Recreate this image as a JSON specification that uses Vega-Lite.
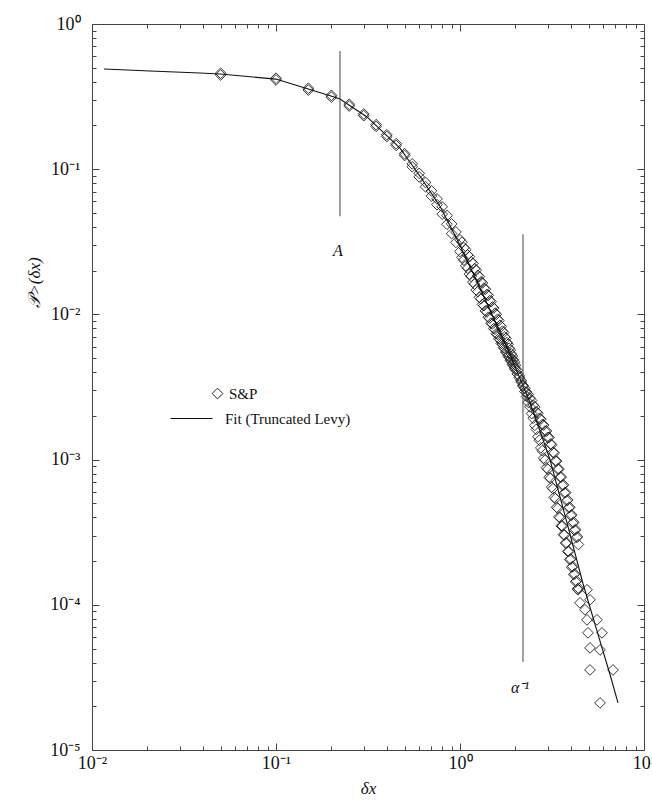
{
  "$schema": "https://vega.github.io/schema/vega-lite/v6.json",
  "width": 552,
  "height": 726,
  "autosize": "none",
  "padding": {"left": 92, "top": 24, "right": 8, "bottom": 54},
  "background": "white",
  "config": {
    "view": {"stroke": null},
    "axis": {
      "grid": false,
      "domainColor": "#444",
      "tickColor": "#444",
      "domainWidth": 1,
      "tickWidth": 1,
      "labelFont": "Liberation Serif",
      "labelFontSize": 18,
      "labelColor": "#111",
      "titleFont": "Liberation Serif",
      "titleFontSize": 17,
      "titleFontStyle": "italic",
      "titleFontWeight": "normal",
      "titleColor": "#111",
      "labelFlush": false,
      "labelOverlap": false
    },
    "legend": {
      "labelFont": "Liberation Serif",
      "labelFontSize": 15,
      "labelColor": "#111",
      "padding": 0,
      "symbolStrokeWidth": 1
    }
  },
  "datasets": {
    "sp": [
      {"dx": 0.05, "P": 0.4579}, {"dx": 0.05, "P": 0.4454},
      {"dx": 0.1, "P": 0.4233}, {"dx": 0.1, "P": 0.4118},
      {"dx": 0.15, "P": 0.3609}, {"dx": 0.15, "P": 0.351},
      {"dx": 0.2, "P": 0.3225}, {"dx": 0.2, "P": 0.3136},
      {"dx": 0.25, "P": 0.2798}, {"dx": 0.25, "P": 0.2722},
      {"dx": 0.3, "P": 0.2402}, {"dx": 0.3, "P": 0.2336},
      {"dx": 0.35, "P": 0.2026}, {"dx": 0.35, "P": 0.1971},
      {"dx": 0.4, "P": 0.1726}, {"dx": 0.4, "P": 0.1679},
      {"dx": 0.45, "P": 0.1499}, {"dx": 0.45, "P": 0.1458},
      {"dx": 0.5, "P": 0.1278}, {"dx": 0.5, "P": 0.1243},
      {"dx": 0.55, "P": 0.1088}, {"dx": 0.55, "P": 0.1039},
      {"dx": 0.6, "P": 0.09367}, {"dx": 0.6, "P": 0.08862},
      {"dx": 0.65, "P": 0.0811}, {"dx": 0.65, "P": 0.07568},
      {"dx": 0.7, "P": 0.07092}, {"dx": 0.7, "P": 0.06532},
      {"dx": 0.75, "P": 0.06248}, {"dx": 0.75, "P": 0.05698},
      {"dx": 0.8, "P": 0.05505}, {"dx": 0.8, "P": 0.04906},
      {"dx": 0.85, "P": 0.04797}, {"dx": 0.85, "P": 0.04178},
      {"dx": 0.9, "P": 0.04196}, {"dx": 0.9, "P": 0.03604},
      {"dx": 0.95, "P": 0.03698}, {"dx": 0.95, "P": 0.03133},
      {"dx": 1.0, "P": 0.03264}, {"dx": 1.0, "P": 0.02714},
      {"dx": 1.025, "P": 0.03143}, {"dx": 1.025, "P": 0.02474},
      {"dx": 1.05, "P": 0.02884}, {"dx": 1.05, "P": 0.02366},
      {"dx": 1.075, "P": 0.0279}, {"dx": 1.075, "P": 0.0216},
      {"dx": 1.1, "P": 0.02566}, {"dx": 1.1, "P": 0.02076},
      {"dx": 1.125, "P": 0.02497}, {"dx": 1.125, "P": 0.01894},
      {"dx": 1.15, "P": 0.023}, {"dx": 1.15, "P": 0.01827},
      {"dx": 1.175, "P": 0.02244}, {"dx": 1.175, "P": 0.01668},
      {"dx": 1.2, "P": 0.02063}, {"dx": 1.2, "P": 0.01616},
      {"dx": 1.225, "P": 0.02019}, {"dx": 1.225, "P": 0.01475},
      {"dx": 1.25, "P": 0.01857}, {"dx": 1.25, "P": 0.01434},
      {"dx": 1.275, "P": 0.01821}, {"dx": 1.275, "P": 0.01311},
      {"dx": 1.3, "P": 0.01674}, {"dx": 1.3, "P": 0.01281},
      {"dx": 1.325, "P": 0.01647}, {"dx": 1.325, "P": 0.01172},
      {"dx": 1.35, "P": 0.01515}, {"dx": 1.35, "P": 0.01149},
      {"dx": 1.375, "P": 0.01491}, {"dx": 1.375, "P": 0.01056},
      {"dx": 1.4, "P": 0.0137}, {"dx": 1.4, "P": 0.01039},
      {"dx": 1.425, "P": 0.01351}, {"dx": 1.425, "P": 0.009561},
      {"dx": 1.45, "P": 0.01243}, {"dx": 1.45, "P": 0.009428},
      {"dx": 1.475, "P": 0.01223}, {"dx": 1.475, "P": 0.008706},
      {"dx": 1.5, "P": 0.01125}, {"dx": 1.5, "P": 0.008611},
      {"dx": 1.525, "P": 0.01106}, {"dx": 1.525, "P": 0.00799},
      {"dx": 1.55, "P": 0.01019}, {"dx": 1.55, "P": 0.00791},
      {"dx": 1.575, "P": 0.01001}, {"dx": 1.575, "P": 0.007359},
      {"dx": 1.6, "P": 0.009254}, {"dx": 1.6, "P": 0.007285},
      {"dx": 1.625, "P": 0.009077}, {"dx": 1.625, "P": 0.006808},
      {"dx": 1.65, "P": 0.008408}, {"dx": 1.65, "P": 0.006742},
      {"dx": 1.675, "P": 0.00824}, {"dx": 1.675, "P": 0.006322},
      {"dx": 1.7, "P": 0.00766}, {"dx": 1.7, "P": 0.006256},
      {"dx": 1.725, "P": 0.007503}, {"dx": 1.725, "P": 0.00589},
      {"dx": 1.75, "P": 0.006998}, {"dx": 1.75, "P": 0.005818},
      {"dx": 1.775, "P": 0.006834}, {"dx": 1.775, "P": 0.005503},
      {"dx": 1.8, "P": 0.006389}, {"dx": 1.8, "P": 0.005434},
      {"dx": 1.825, "P": 0.006224}, {"dx": 1.825, "P": 0.005162},
      {"dx": 1.85, "P": 0.005844}, {"dx": 1.85, "P": 0.00509},
      {"dx": 1.875, "P": 0.005675}, {"dx": 1.875, "P": 0.004844},
      {"dx": 1.9, "P": 0.005339}, {"dx": 1.9, "P": 0.004759},
      {"dx": 1.925, "P": 0.005169}, {"dx": 1.925, "P": 0.004542},
      {"dx": 1.95, "P": 0.00488}, {"dx": 1.95, "P": 0.00445},
      {"dx": 1.975, "P": 0.004715}, {"dx": 1.975, "P": 0.004263},
      {"dx": 2.0, "P": 0.004467}, {"dx": 2.0, "P": 0.004168},
      {"dx": 2.05, "P": 0.004123}, {"dx": 2.05, "P": 0.00389},
      {"dx": 2.1, "P": 0.003771}, {"dx": 2.1, "P": 0.003668},
      {"dx": 2.15, "P": 0.003506}, {"dx": 2.15, "P": 0.00342},
      {"dx": 2.2, "P": 0.003204}, {"dx": 2.2, "P": 0.003249},
      {"dx": 2.25, "P": 0.003092}, {"dx": 2.25, "P": 0.002941},
      {"dx": 2.3, "P": 0.002723}, {"dx": 2.3, "P": 0.002917},
      {"dx": 2.35, "P": 0.00281}, {"dx": 2.35, "P": 0.002482},
      {"dx": 2.4, "P": 0.00231}, {"dx": 2.4, "P": 0.002653},
      {"dx": 2.45, "P": 0.002551}, {"dx": 2.45, "P": 0.002073},
      {"dx": 2.5, "P": 0.001927}, {"dx": 2.5, "P": 0.00237},
      {"dx": 2.55, "P": 0.0023}, {"dx": 2.55, "P": 0.001721},
      {"dx": 2.6, "P": 0.001614}, {"dx": 2.6, "P": 0.002128},
      {"dx": 2.65, "P": 0.002086}, {"dx": 2.65, "P": 0.001437},
      {"dx": 2.7, "P": 0.00136}, {"dx": 2.7, "P": 0.001922},
      {"dx": 2.75, "P": 0.001902}, {"dx": 2.75, "P": 0.001205},
      {"dx": 2.8, "P": 0.001152}, {"dx": 2.8, "P": 0.001744},
      {"dx": 2.85, "P": 0.00173}, {"dx": 2.85, "P": 0.001023},
      {"dx": 2.9, "P": 0.0009922}, {"dx": 2.9, "P": 0.001572},
      {"dx": 2.95, "P": 0.00157}, {"dx": 2.95, "P": 0.000879},
      {"dx": 3.0, "P": 0.0008578}, {"dx": 3.0, "P": 0.001423},
      {"dx": 3.05, "P": 0.001422}, {"dx": 3.05, "P": 0.0007572},
      {"dx": 3.1, "P": 0.0007431}, {"dx": 3.1, "P": 0.001279},
      {"dx": 3.15, "P": 0.001267}, {"dx": 3.15, "P": 0.0006467},
      {"dx": 3.2, "P": 0.0006302}, {"dx": 3.2, "P": 0.001121},
      {"dx": 3.25, "P": 0.001111}, {"dx": 3.25, "P": 0.0005494},
      {"dx": 3.3, "P": 0.0005385}, {"dx": 3.3, "P": 0.0009799},
      {"dx": 3.35, "P": 0.0009761}, {"dx": 3.35, "P": 0.0004694},
      {"dx": 3.4, "P": 0.0004623}, {"dx": 3.4, "P": 0.0008607},
      {"dx": 3.45, "P": 0.0008611}, {"dx": 3.45, "P": 0.0004029},
      {"dx": 3.5, "P": 0.0003985}, {"dx": 3.5, "P": 0.0007592},
      {"dx": 3.55, "P": 0.0007579}, {"dx": 3.55, "P": 0.0003496},
      {"dx": 3.6, "P": 0.0003489}, {"dx": 3.6, "P": 0.0006649},
      {"dx": 3.65, "P": 0.0006693}, {"dx": 3.65, "P": 0.0003045},
      {"dx": 3.7, "P": 0.000303}, {"dx": 3.7, "P": 0.000591},
      {"dx": 3.75, "P": 0.0005932}, {"dx": 3.75, "P": 0.0002662},
      {"dx": 3.8, "P": 0.0002673}, {"dx": 3.8, "P": 0.0005211},
      {"dx": 3.85, "P": 0.0005272}, {"dx": 3.85, "P": 0.0002333},
      {"dx": 3.9, "P": 0.0002334}, {"dx": 3.9, "P": 0.0004657},
      {"dx": 3.95, "P": 0.0004695}, {"dx": 3.95, "P": 0.0002049},
      {"dx": 4.0, "P": 0.0002066}, {"dx": 4.0, "P": 0.0004122},
      {"dx": 4.05, "P": 0.0004161}, {"dx": 4.05, "P": 0.0001816},
      {"dx": 4.1, "P": 0.0001834}, {"dx": 4.1, "P": 0.000366},
      {"dx": 4.15, "P": 0.0003702}, {"dx": 4.15, "P": 0.0001616},
      {"dx": 4.2, "P": 0.0001634}, {"dx": 4.2, "P": 0.0003261},
      {"dx": 4.25, "P": 0.0003299}, {"dx": 4.25, "P": 0.000144},
      {"dx": 4.3, "P": 0.0001458}, {"dx": 4.3, "P": 0.0002909},
      {"dx": 4.35, "P": 0.0002947}, {"dx": 4.35, "P": 0.0001287},
      {"dx": 4.4, "P": 0.0001304}, {"dx": 4.4, "P": 0.0002602},
      {"dx": 4.378, "P": 0.0001269}, {"dx": 4.899, "P": 0.0001269},
      {"dx": 4.489, "P": 0.0001032}, {"dx": 5.087, "P": 0.0001083},
      {"dx": 4.778, "P": 0.0000924}, {"dx": 4.899, "P": 0.0000788},
      {"dx": 5.554, "P": 0.0000788}, {"dx": 4.962, "P": 0.0000641},
      {"dx": 5.91, "P": 0.0000641}, {"dx": 5.087, "P": 0.0000505},
      {"dx": 5.767, "P": 0.0000489}, {"dx": 5.087, "P": 0.0000356},
      {"dx": 6.785, "P": 0.0000356}, {"dx": 5.767, "P": 0.0000211}
    ],
    "fit": [
      {"dx": 0.01162, "P": 0.4895}, {"dx": 0.02066, "P": 0.4742},
      {"dx": 0.03864, "P": 0.4594}, {"dx": 0.04962, "P": 0.4521},
      {"dx": 0.1, "P": 0.4175}, {"dx": 0.1438, "P": 0.3619},
      {"dx": 0.199, "P": 0.3188}, {"dx": 0.2227, "P": 0.304},
      {"dx": 0.3123, "P": 0.2291}, {"dx": 0.472, "P": 0.1396},
      {"dx": 0.6063, "P": 0.08947}, {"dx": 0.7785, "P": 0.05557},
      {"dx": 0.9632, "P": 0.0329}, {"dx": 1.177, "P": 0.01928},
      {"dx": 1.455, "P": 0.01072}, {"dx": 1.87, "P": 0.005298},
      {"dx": 2.401, "P": 0.002472}, {"dx": 3.084, "P": 0.001},
      {"dx": 3.864, "P": 0.000345}, {"dx": 4.662, "P": 0.0001396},
      {"dx": 5.767, "P": 0.00005623}, {"dx": 6.535, "P": 0.00003311},
      {"dx": 7.224, "P": 0.00002109}
    ],
    "vlines": [
      {"dx": 0.2227, "P": 0.6515, "P2": 0.0474},
      {"dx": 2.2, "P": 0.03561, "P2": 0.00004045}
    ],
    "notes": [
      {"dx": 0.2172, "P": 0.02719, "label": "A"},
      {"dx": 2.12, "P": 0.00002677, "label": "α⁻¹"}
    ]
  },
  "resolve": {"axis": {"x": "independent", "y": "independent"}},
  "layer": [
    {
      "data": {"name": "sp"},
      "mark": {"type": "point", "filled": false, "stroke": "#222", "strokeWidth": 0.9, "size": 115, "opacity": 1},
      "encoding": {
        "x": {
          "field": "dx", "type": "quantitative",
          "scale": {"type": "log", "domain": [0.01, 10], "nice": false},
          "axis": {
            "orient": "bottom",
            "values": [0.01,0.02,0.03,0.04,0.05,0.06,0.07,0.08,0.09,0.1,0.2,0.3,0.4,0.5,0.6,0.7,0.8,0.9,1,2,3,4,5,6,7,8,9,10],
            "tickSize": {"condition": {"test": "abs(log(datum.value)/LN10 - round(log(datum.value)/LN10)) < 0.000001", "value": -7}, "value": -4},
            "labelExpr": "abs(log(datum.value)/LN10 - round(log(datum.value)/LN10)) < 0.000001 ? '10' + replace(replace(replace(replace(replace(replace(replace('' + round(log(datum.value)/LN10), '-', '⁻'), '0', '⁰'), '1', '¹'), '2', '²'), '3', '³'), '4', '⁴'), '5', '⁵') : ''",
            "labelPadding": 11,
            "title": "δx",
            "titlePadding": 5
          }
        },
        "y": {
          "field": "P", "type": "quantitative",
          "scale": {"type": "log", "domain": [0.00001, 1], "nice": false},
          "axis": {
            "orient": "left",
            "values": [0.00001,0.00002,0.00003,0.00004,0.00005,0.00006,0.00007,0.00008,0.00009,0.0001,0.0002,0.0003,0.0004,0.0005,0.0006,0.0007,0.0008,0.0009,0.001,0.002,0.003,0.004,0.005,0.006,0.007,0.008,0.009,0.01,0.02,0.03,0.04,0.05,0.06,0.07,0.08,0.09,0.1,0.2,0.3,0.4,0.5,0.6,0.7,0.8,0.9,1],
            "tickSize": {"condition": {"test": "abs(log(datum.value)/LN10 - round(log(datum.value)/LN10)) < 0.000001", "value": -7}, "value": -4},
            "labelExpr": "abs(log(datum.value)/LN10 - round(log(datum.value)/LN10)) < 0.000001 ? '10' + replace(replace(replace(replace(replace(replace(replace('' + round(log(datum.value)/LN10), '-', '⁻'), '0', '⁰'), '1', '¹'), '2', '²'), '3', '³'), '4', '⁴'), '5', '⁵') : ''",
            "labelPadding": 19,
            "title": "𝒫>(δx)",
            "titleX": -58,
            "titleY": 258,
            "titleAngle": -90,
            "titleAlign": "center",
            "titleBaseline": "middle"
          }
        },
        "shape": {
          "datum": "S&P",
          "scale": {"domain": ["S&P"], "range": ["diamond"]},
          "legend": {"orient": "none", "legendX": 118, "legendY": 362, "title": null, "symbolSize": 115, "labelOffset": 4, "symbolFillColor": "transparent", "symbolStrokeColor": "#222"}
        }
      }
    },
    {
      "data": {"name": "fit"},
      "mark": {"type": "line", "strokeWidth": 1.1},
      "encoding": {
        "x": {
          "field": "dx", "type": "quantitative",
          "scale": {"type": "log", "domain": [0.01, 10], "nice": false},
          "axis": {
            "orient": "top",
            "values": [0.01,0.02,0.03,0.04,0.05,0.06,0.07,0.08,0.09,0.1,0.2,0.3,0.4,0.5,0.6,0.7,0.8,0.9,1,2,3,4,5,6,7,8,9,10],
            "tickSize": {"condition": {"test": "abs(log(datum.value)/LN10 - round(log(datum.value)/LN10)) < 0.000001", "value": -7}, "value": -4},
            "labels": false,
            "title": null
          }
        },
        "y": {
          "field": "P", "type": "quantitative",
          "scale": {"type": "log", "domain": [0.00001, 1], "nice": false},
          "axis": {
            "orient": "right",
            "values": [0.00001,0.00002,0.00003,0.00004,0.00005,0.00006,0.00007,0.00008,0.00009,0.0001,0.0002,0.0003,0.0004,0.0005,0.0006,0.0007,0.0008,0.0009,0.001,0.002,0.003,0.004,0.005,0.006,0.007,0.008,0.009,0.01,0.02,0.03,0.04,0.05,0.06,0.07,0.08,0.09,0.1,0.2,0.3,0.4,0.5,0.6,0.7,0.8,0.9,1],
            "tickSize": {"condition": {"test": "abs(log(datum.value)/LN10 - round(log(datum.value)/LN10)) < 0.000001", "value": -7}, "value": -4},
            "labels": false,
            "title": null
          }
        },
        "color": {
          "datum": "Fit (Truncated Levy)",
          "scale": {"domain": ["Fit (Truncated Levy)"], "range": ["#111"]},
          "legend": {"orient": "none", "legendX": 78, "legendY": 373, "title": null, "symbolType": "stroke", "symbolSize": 1764, "symbolStrokeWidth": 1, "labelOffset": 12}
        }
      }
    },
    {
      "data": {"name": "vlines"},
      "mark": {"type": "rule", "stroke": "#444", "strokeWidth": 1},
      "encoding": {
        "x": {"field": "dx", "type": "quantitative", "scale": {"type": "log", "domain": [0.01, 10], "nice": false}, "axis": null},
        "y": {"field": "P", "type": "quantitative", "scale": {"type": "log", "domain": [0.00001, 1], "nice": false}, "axis": null},
        "y2": {"field": "P2"}
      }
    },
    {
      "data": {"name": "notes"},
      "mark": {"type": "text", "font": "Liberation Serif", "fontStyle": "italic", "fontSize": 16, "align": "center", "baseline": "middle", "color": "#111"},
      "encoding": {
        "x": {"field": "dx", "type": "quantitative", "scale": {"type": "log", "domain": [0.01, 10], "nice": false}, "axis": null},
        "y": {"field": "P", "type": "quantitative", "scale": {"type": "log", "domain": [0.00001, 1], "nice": false}, "axis": null},
        "text": {"field": "label"}
      }
    }
  ]
}
